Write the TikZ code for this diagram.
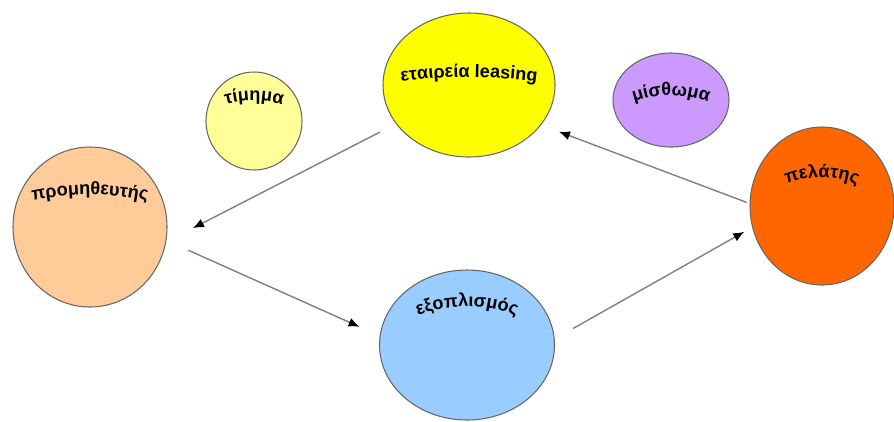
\documentclass[tikz,border=0pt]{standalone}
\usepackage{fontspec}
\setmainfont{Liberation Sans}
\usetikzlibrary{arrows.meta,calc,decorations.text,shapes.geometric}
\definecolor{leasingfill}{HTML}{FFFF00}
\definecolor{pricefill}{HTML}{FFFF99}
\definecolor{rentfill}{HTML}{CC99FF}
\definecolor{clientfill}{HTML}{FF6600}
\definecolor{supplierfill}{HTML}{FFCC99}
\definecolor{goodsfill}{HTML}{99CCFF}
\newcommand{\arcfont}{\fontsize{10.3}{12}\selectfont\bfseries}
\tikzset{
  party/.style={ellipse,draw=black!60,line width=0.6pt,inner sep=0pt},
  flow/.style={draw=black!50,line width=0.8pt,-{Latex[black,length=2.2mm,width=1.8mm]}},
  arctext/.style={decorate,decoration={text along path,text align=center,text={|\arcfont|#1}}}
}
\begin{document}
\begin{tikzpicture}
\useasboundingbox (0,0) rectangle (17.88,-8.42);
% Parties of the leasing deal
\node[party,fill=leasingfill,minimum width=3.44cm,minimum height=2.88cm] (leasing) at (9.38,-1.70) {};
\node[party,fill=pricefill,minimum width=1.92cm,minimum height=1.96cm] (timima) at (5.08,-2.42) {};
\node[party,fill=rentfill,minimum width=2.32cm,minimum height=1.88cm] (misthoma) at (13.42,-2.00) {};
\node[party,fill=clientfill,minimum width=2.88cm,minimum height=3.16cm] (pelatis) at (16.44,-4.12) {};
\node[party,fill=supplierfill,minimum width=3.08cm,minimum height=3.20cm] (promitheftis) at (1.80,-4.54) {};
\node[party,fill=goodsfill,minimum width=3.50cm,minimum height=3.00cm] (exoplismos) at (9.34,-6.90) {};
% Arched labels
\begin{scope}[shift={(leasing)}]
\path[arctext={εταιρεία leasing}] (-1.60,0.03) to[bend left=8] (1.60,0.03);
\end{scope}
\begin{scope}[shift={(timima)}]
\path[arctext={τίμημα}] (-0.85,0.25) to[bend left=18] (0.85,0.25);
\end{scope}
\begin{scope}[shift={(misthoma)}]
\path[arctext={μίσθωμα}] (-1.00,-0.14) to[bend left=23] (1.00,-0.14);
\end{scope}
\begin{scope}[shift={(pelatis)}]
\path[arctext={πελάτης}] (-0.95,0.33) to[bend left=26] (0.95,0.33);
\end{scope}
\begin{scope}[shift={(promitheftis)}]
\path[arctext={προμηθευτής}] (-1.45,0.46) to[bend left=13] (1.45,0.46);
\end{scope}
\begin{scope}[shift={(exoplismos)}]
\path[arctext={εξοπλισμός}] (-1.50,0.36) to[bend left=28] (1.50,0.36);
\end{scope}
% Money and goods flow
\draw[flow,shorten <=0.36cm,shorten >=0.60cm] (leasing.208) -- (promitheftis.349);
\draw[flow,shorten <=0.48cm,shorten >=0.44cm] (promitheftis.350) -- (exoplismos.174);
\draw[flow,shorten <=0.42cm,shorten >=0.18cm] (exoplismos.4) -- (pelatis.197);
\draw[flow,shorten <=0.06cm,shorten >=0.38cm] (pelatis.178) -- (leasing.331);
\end{tikzpicture}
\end{document}
